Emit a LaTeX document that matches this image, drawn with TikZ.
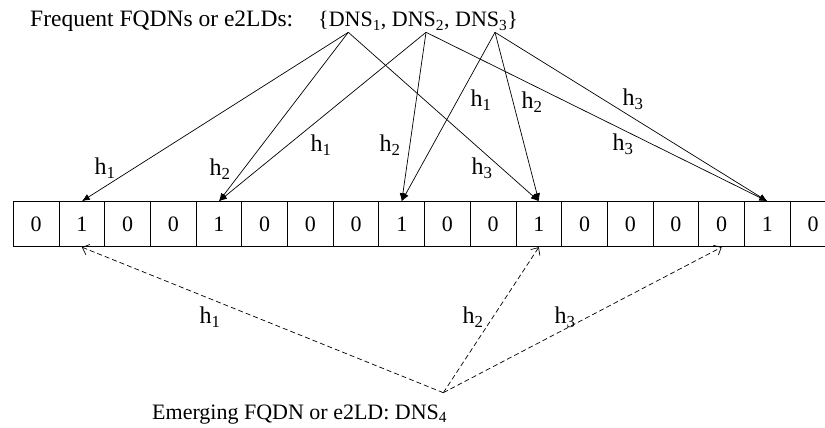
\documentclass[tikz,border=0pt]{standalone}
\usepackage{fontspec}
\setmainfont{Liberation Serif}
\usetikzlibrary{arrows.meta}
\begin{document}
\begin{tikzpicture}[x=1pt,y=-1pt,
  cell/.style={draw, line width=0.9pt, minimum width=45.7pt, minimum height=45pt, inner sep=0pt, font=\fontsize{22}{24}\selectfont},
  hl/.style={inner sep=0pt, font=\fontsize{24}{26}\selectfont},
  hash/.style={line width=0.7pt, -{Latex[length=8pt,width=6.5pt]}},
  qry/.style={line width=0.7pt, dash pattern=on 5pt off 3pt, -{Straight Barb[length=6pt,width=11pt]}},
  txt/.style={inner sep=0pt, anchor=base west, font=\fontsize{22}{24}\selectfont}]
\useasboundingbox (0,0) rectangle (825,428);
\clip (0,0) rectangle (825,428);
\foreach \v [count=\i from 0] in {0,1,0,0,1,0,0,0,1,0,0,1,0,0,0,0,1,0}
  \node[cell] (c\i) at ({36.15+45.7*\i},224.2) {\v};
% header
\node[txt, font=\fontsize{23.5}{26}\selectfont] (hdr) at (30,27) {Frequent FQDNs or e2LDs:};
\node[txt] (set) at (318,27) {\{DNS\textsubscript{1}, DNS\textsubscript{2}, DNS\textsubscript{3}\}};
\coordinate (s1) at (348.3,32.3);
\coordinate (s2) at (426,32.3);
\coordinate (s3) at (495,32.3);
% hash arrows
\draw[hash] (s1) -- (c1.north);
\draw[hash] (s1) -- (c4.north);
\draw[hash] (s1) -- (c11.north);
\draw[hash] (s2) -- (c4.north);
\draw[hash] (s2) -- (c8.north);
\draw[hash] (s2) -- (c16.north);
\draw[hash] (s3) -- (c8.north);
\draw[hash] (s3) -- (c11.north);
\draw[hash] (s3) -- (c16.north);
% labels top
\node[hl] (l1) at (105,168) {h\textsubscript{1}};
\node[hl] (l2) at (220,169) {h\textsubscript{2}};
\node[hl] (l3) at (321,145) {h\textsubscript{1}};
\node[hl] (l4) at (390,145) {h\textsubscript{2}};
\node[hl] (l5) at (481,100) {h\textsubscript{1}};
\node[hl] (l6) at (532,102) {h\textsubscript{2}};
\node[hl] (l7) at (482,168) {h\textsubscript{3}};
\node[hl] (l8) at (633,99) {h\textsubscript{3}};
\node[hl] (l9) at (623,144) {h\textsubscript{3}};
% emerging
\coordinate (b) at (443.3,392.7);
\draw[qry] (b) -- (c1.south);
\draw[qry] (b) -- (c11.south);
\draw[qry] (b) -- (c15.south);
\node[hl] (m1) at (210,317) {h\textsubscript{1}};
\node[hl] (m2) at (473,317) {h\textsubscript{2}};
\node[hl] (m3) at (565,317) {h\textsubscript{3}};
\node[txt] (em) at (152,419) {Emerging FQDN or e2LD: DNS\textsubscript{4}};
\end{tikzpicture}
\end{document}
